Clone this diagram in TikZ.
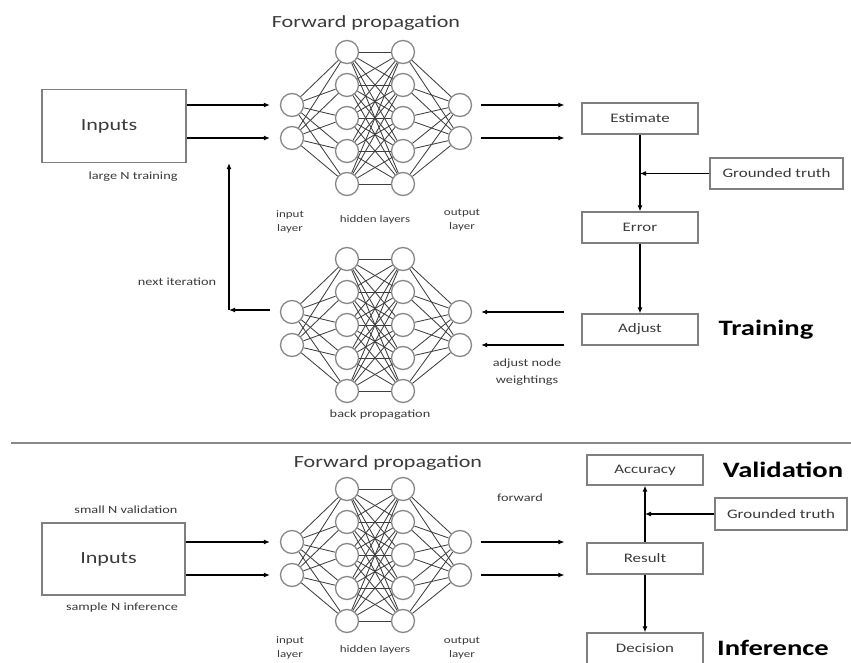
\documentclass[tikz,border=0pt]{standalone}
\usepackage{fontspec}
\setmainfont{Carlito}[FakeStretch=1.3]
\usepackage{tikz}
\usetikzlibrary{arrows.meta, calc}
\definecolor{box_gray}{HTML}{7F7F7F}
\definecolor{text_gray}{HTML}{3A3A3A}
\definecolor{circ_gray}{HTML}{888888}
\definecolor{link_gray}{HTML}{3F3F3F}

\begin{document}
\begin{tikzpicture}[x=1pt, y=-1pt, >={Latex[length=6pt,width=5pt]},
    box/.style={draw=box_gray, line width=1.2pt, minimum width=116pt, minimum height=31pt,
      inner sep=0pt, text=text_gray, font=\fontsize{13}{15}\selectfont},
    inbox/.style={draw=box_gray, line width=1.2pt, minimum width=144pt, minimum height=73pt,
      text=text_gray, font=\fontsize{17}{20}\selectfont},
    neuron/.style={circle, draw=circ_gray, line width=1.3pt, minimum size=23pt, inner sep=0pt},
    link/.style={draw=link_gray, line width=0.85pt},
    flow/.style={->, line width=1.1pt},
    bigflow/.style={->, line width=2.3pt},
    title/.style={text=text_gray, font=\fontsize{17}{20}\selectfont},
    lbl/.style={text=text_gray, font=\fontsize{11}{17}\selectfont, align=center},
    layerlbl/.style={text=text_gray, font=\fontsize{10}{14}\selectfont, align=center},
    stage/.style={font=\bfseries\fontsize{22}{26}\selectfont}]

    \useasboundingbox (0,0) rectangle (851,663);

    % the three networks: forward, back propagation, validation
    \foreach \net/\cy in {top/118, back/325, val/555} {
      \foreach \k/\dy in {1/-13, 2/20} {
        \node[neuron] (\net-in\k) at (292, \cy+\dy) {};
        \node[neuron] (\net-out\k) at (460, \cy+\dy) {};
      }
      \foreach \k in {1,...,5} {
        \node[neuron] (\net-ha\k) at (347, \cy+33*\k-99) {};
        \node[neuron] (\net-hb\k) at (403, \cy+33*\k-99) {};
      }
      \foreach \i in {1,...,5} {
        \foreach \j in {1,2} {
          \draw[link] (\net-in\j) -- (\net-ha\i);
          \draw[link] (\net-hb\i) -- (\net-out\j);
        }
        \foreach \j in {1,...,5}
          \draw[link] (\net-ha\i) -- (\net-hb\j);
      }
    }

    % Training part
    \node[title] (fwd1) at (366,23) {Forward propagation};
    \node[inbox] (in1) at (114,126) {Inputs\hspace*{10pt}};
    \node[lbl] (large) at (133,177) {large N training};

    \node[layerlbl] (inlay1) at (290,222) {input\\layer};
    \node[layerlbl] (hidlay1) at (375,220) {hidden layers};
    \node[layerlbl] (outlay1) at (462,220) {output\\layer};

    \node[box] (est) at (640,118.5) {Estimate};
    \node[box] (err) at (640,227.5) {Error};
    \node[box] (adj) at (640,329.5) {Adjust};
    \node[box, minimum width=133pt] (gt1) at (776.5,173.5) {Grounded truth};
    \node[stage] (train) at (766,330) {Training};

    \foreach \k in {1,2} {
      \draw[flow] (in1.east |- top-in\k) -- ([xshift=-10pt]top-in\k.west);
      \draw[flow] ([xshift=9pt]top-out\k.east) -- ([xshift=-17pt]est.west |- top-out\k);
      \draw[flow] ([xshift=-17pt]adj.west |- back-out\k) -- ([xshift=9pt]back-out\k.east);
    }
    \draw[bigflow] (est) -- (err);
    \draw[bigflow] (err) -- (adj);
    \draw[flow] (gt1.west) -- (est.south |- gt1.west);

    \node[lbl] (weights) at (527,372) {adjust node\\weightings};
    \node[lbl] (bprop) at (380,415) {back propagation};

    \coordinate (turn) at (229,310);
    \draw[bigflow] ([xshift=-10pt]back-in1.west |- turn) -- (turn);
    \draw[bigflow] (turn) -- (turn |- in1.south);
    \node[lbl] (nextit) at (177,282) {next iteration};

    \draw[draw=circ_gray, line width=2pt] (11,443) -- (851,443);

    % Validation and inference part
    \node[title] (fwd2) at (388,463) {Forward propagation};
    \node[lbl] (small) at (126,510) {small N validation};
    \node[inbox, minimum width=143pt, minimum height=72pt] (in2) at (113.5,559) {Inputs\hspace*{10pt}};
    \node[lbl] (sample) at (122,608) {sample N inference};

    \node[layerlbl] (inlay2) at (290,648) {input\\layer};
    \node[layerlbl] (hidlay2) at (375,650) {hidden layers};
    \node[layerlbl] (outlay2) at (462,648) {output\\layer};
    \node[lbl] (fwdlbl) at (520,498) {forward};

    \node[box, minimum height=30pt] (acc) at (645,470) {Accuracy};
    \node[box] (res) at (645,558.5) {Result};
    \node[box] (dec) at (645,648.5) {Decision};
    \node[box, minimum width=132pt, minimum height=32pt] (gt2) at (781,514) {Grounded truth};
    \node[stage] (valid) at (783,470) {Validation};
    \node[stage] (infer) at (773,648) {Inference};

    \foreach \k in {1,2} {
      \draw[flow] (in2.east |- val-in\k) -- ([xshift=-10pt]val-in\k.west);
      \draw[flow] ([xshift=9pt]val-out\k.east) -- ([xshift=-22pt]res.west |- val-out\k);
    }
    \draw[bigflow] (res) -- (acc);
    \draw[bigflow] (res) -- (dec);
    \draw[flow] (gt2.west) -- (res.north |- gt2.west);

  \end{tikzpicture}
\end{document}
